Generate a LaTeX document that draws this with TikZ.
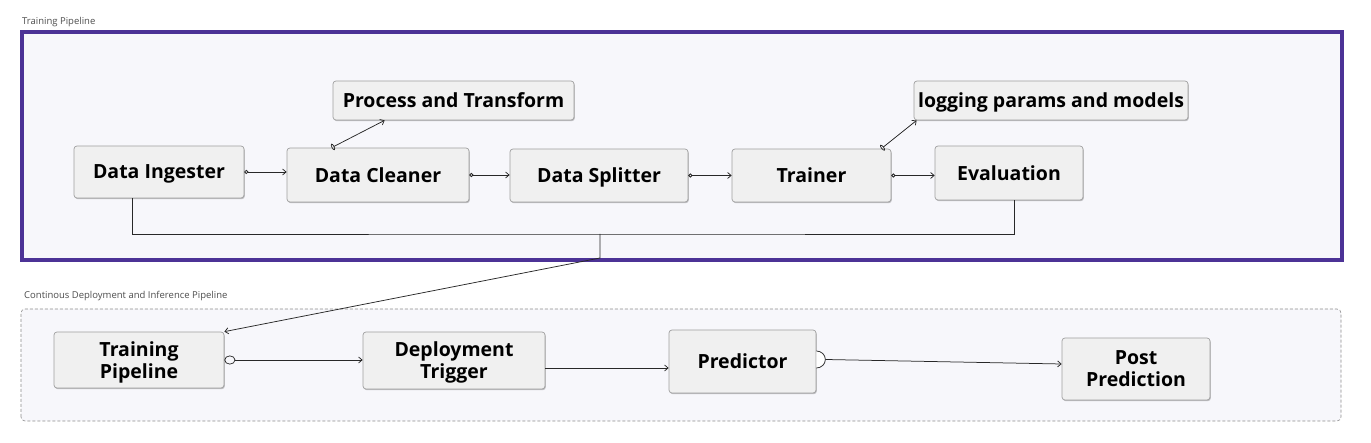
\documentclass[tikz,border=0pt]{standalone}
\usepackage{fontspec}
\setmainfont{Open Sans}
\usetikzlibrary{arrows.meta,shadows}
\definecolor{purp}{RGB}{76,50,150}
\definecolor{panel}{RGB}{247,247,251}
\definecolor{boxfill}{RGB}{240,240,240}
\definecolor{boxline}{RGB}{160,160,160}
\definecolor{ink}{RGB}{40,40,40}
\begin{document}
\begin{tikzpicture}[x=1pt,y=1pt,
  >={Straight Barb[length=3.5pt,width=6pt]},
  blk/.style={draw=boxline, fill=boxfill, line width=0.7pt, rounded corners=3pt, inner sep=0pt, align=center,
    text depth=0pt, font=\bfseries\fontsize{19.5}{22}\selectfont,
    drop shadow={shadow xshift=0.8pt,shadow yshift=-1.2pt,fill=black,opacity=0.22}},
  wire/.style={draw=ink, line width=0.75pt},
  c2a/.style={wire, {Circle[open,length=4pt,width=4pt]}->},
  e2a/.style={wire, {Ellipse[open,length=11pt,width=9pt]}->},
  s2a/.style={wire, {Ellipse[open,length=3pt,width=7pt]}->},
  ttl/.style={anchor=west, inner sep=0pt, text=black!70, font=\fontsize{9.5}{11}\selectfont}]
\useasboundingbox (0,0) rectangle (1371,443);

% containers
\draw[purp, line width=3.2pt, fill=panel] (22,183) rectangle (1342,411);
\draw[draw=black!45, dash pattern=on 3pt off 2pt, rounded corners=4pt, fill=panel, line width=0.6pt] (21,22) rectangle (1341,134);
\node[ttl] (t1) at (22,421) {Training Pipeline};
\node[ttl] (t2) at (24,147) {Continous Deployment and Inference Pipeline};

% training pipeline nodes
\node[blk, minimum width=170pt, minimum height=52pt] (di) at (159,271) {Data Ingester};
\node[blk, minimum width=182pt, minimum height=54pt] (dc) at (378,268) {Data Cleaner};
\node[blk, minimum width=178pt, minimum height=53pt] (ds) at (599,267.5) {Data Splitter};
\node[blk, minimum width=159pt, minimum height=53pt] (tr) at (811.5,267.5) {Trainer};
\node[blk, minimum width=148pt, minimum height=54pt] (ev) at (1009,270) {Evaluation};
\node[blk, minimum width=241pt, minimum height=39pt] (pt) at (453.5,342.5) {Process and Transform};
\node[blk, minimum width=274pt, minimum height=39pt] (lg) at (1051,342.5) {logging params and models};

% deployment nodes
\node[blk, minimum width=170pt, minimum height=56pt] (tp) at (139,83) {Training\\Pipeline};
\node[blk, minimum width=182pt, minimum height=57pt] (dt) at (454,82.5) {Deployment\\Trigger};
\node[blk, minimum width=147pt, minimum height=63pt] (pr) at (742.5,81.5) {Predictor};
\node[blk, minimum width=148pt, minimum height=62pt] (pp) at (1136,74) {Post\\Prediction};

% training connectors
\draw[c2a] (di.east) -- (di.east -| dc.west);
\draw[c2a] (dc.east) -- (dc.east -| ds.west);
\draw[c2a] (ds.east) -- (ds.east -| tr.west);
\draw[c2a] (tr.east) -- (tr.east -| ev.west);
\draw[s2a] ([xshift=45]dc.north west) -- ([xshift=52]pt.south west);
\draw[s2a] ([xshift=-10]tr.north east) -- ([xshift=3]lg.south west);

% bus to deployment
\coordinate (bus) at (600,209);
\coordinate (drop) at (600,185);
\draw[wire] ([xshift=59]di.south west) |- (bus) -| ([xshift=80]ev.south west);
\draw[wire,->] (bus) -- (drop) -- (tp.north east);

% deployment connectors
\draw[e2a] (tp.east) -- (tp.east -| dt.west);
\draw[wire,->] ([yshift=-7.5]dt.east) -- ([yshift=-7.5]dt.east -| pr.west);
\draw[wire, fill=white] ([yshift=10.5]pr.east) arc[start angle=90,end angle=-90,x radius=9,y radius=8.5];
\coordinate (prout) at ([shift={(9,2)}]pr.east);
\draw[wire,->] (prout) -- ([yshift=5]pp.west);
\end{tikzpicture}
\end{document}
